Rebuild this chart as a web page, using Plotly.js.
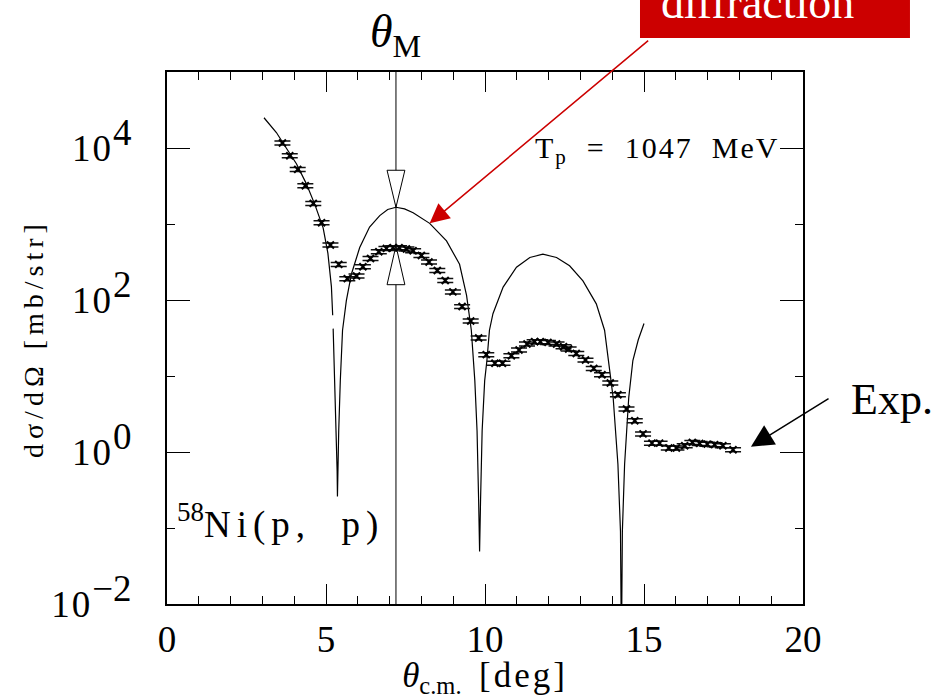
<!DOCTYPE html>
<html>
<head>
<meta charset="utf-8">
<script src="https://cdn.plot.ly/plotly-3.0.1.min.js"></script>
<style>
  html, body { margin: 0; padding: 0; background: #fff; }
  #chart { width: 947px; height: 699px; }
</style>
</head>
<body>
<div id="chart"></div>
<script>
// 58Ni(p,p) elastic scattering at Tp = 1047 MeV: measured cross sections
const expAngle = [3.63, 3.86, 4.11, 4.35, 4.60, 4.86, 5.14, 5.40, 5.67, 5.96,
  6.16, 6.40, 6.66, 6.90, 7.11, 7.30, 7.53, 7.74, 8.00, 8.24,
  8.50, 8.75, 8.99, 9.28, 9.55, 9.80, 10.04, 10.31, 10.55, 10.83,
  11.07, 11.32, 11.56, 11.74, 11.98, 12.25, 12.47, 12.63, 12.87, 13.16,
  13.42, 13.68, 13.94, 14.18, 14.45, 14.71, 14.97, 15.25, 15.49, 15.78,
  16.02, 16.28, 16.52, 16.75, 16.99, 17.22, 17.48, 17.80];
const expSigma = [11640, 7920, 5230, 3190, 1870, 1040, 530, 294, 191, 207,
  274, 352, 432, 478, 488, 488, 469, 445, 386, 316,
  245, 181, 128, 82, 53, 31.6, 19.1, 14.7, 14.7, 18.5,
  22.0, 26.4, 28.3, 28.3, 27.7, 26.4, 24.3, 22.7, 19.8, 16.2,
  12.6, 10.4, 8.09, 5.67, 3.68, 2.58, 1.73, 1.31, 1.31, 1.13,
  1.13, 1.21, 1.34, 1.30, 1.27, 1.25, 1.21, 1.07];

// Black-disk diffraction curve (null marks the small break in the drawn line)
const calcAngle = [3.05, 3.44, 3.75, 4.07, 4.38, 4.65, 4.91, 5.06, 5.17, 5.21,
  5.215, 5.225, 5.27, 5.33, 5.35, 5.36, 5.375, 5.40, 5.45, 5.52,
  5.64, 5.80, 6.06, 6.37, 6.69, 6.94, 7.20, 7.47, 7.74, 8.26,
  8.79, 9.20, 9.42, 9.57, 9.68, 9.75, 9.80, 9.83, 9.86, 9.91,
  9.99, 10.06, 10.14, 10.25, 10.57, 10.99, 11.41, 11.82, 12.25, 12.66,
  13.08, 13.50, 13.76, 14.03, 14.18, 14.26, 14.29, 14.32, 14.39, 14.52,
  14.65, 14.82, 15.00];
const calcSigma = [2.5e4, 1.6e4, 1.0e4, 6200, 3400, 1800, 890, 410, 150, 63,
  null, 42, 8.7, 1.9, 0.56, 0.26, 0.8, 1.9, 8.7, 40,
  98, 220, 490, 910, 1290, 1550, 1660, 1580, 1410, 1020,
  600, 295, 115, 40, 8.7, 1.9, 0.23, 0.049, 0.23, 1.9,
  8.7, 16, 40, 66, 148, 270, 363, 400, 363, 282,
  178, 89, 40, 5.2, 0.69, 0.091, 0.0025, 0.091, 0.69, 5.2,
  16, 30, 49];

// Axis ticks
const xMajor = [0, 5, 10, 15, 20];
const xMajorText = ['0', '5', '10', '15', '20'];
const yMajor = [0.01, 1, 100, 10000];
const yExp = ['−2', '0', '2', '4'];
const yMinor = [0.1, 10, 1000, 100000];

// First diffraction maximum angle
const thetaM = 7.2;

const serif = 'Liberation Serif, Times New Roman, serif';
const yMajorText = yExp.map(e =>
  '<span style="letter-spacing:2px">10</span><sup><span style="font-size:37px">' + e + '</span></sup>');

// heights of the first maximum, in the calculation and in the data
const peakCalc = calcSigma[calcAngle.indexOf(thetaM)];
const peakExp = Math.max(...expSigma.filter((v, i) => Math.abs(expAngle[i] - thetaM) < 1));
const arrowIdx = calcAngle.indexOf(8.26);
const lastIdx = expAngle.length - 1;

// open triangles on the theta_M line: half width in degrees, height as a ratio in sigma
const triHalf = 0.28;
const triRise = 3.07;
function triangleTrace(tipY, baseY) {
  return {
    x: [thetaM - triHalf, thetaM + triHalf, thetaM, thetaM - triHalf],
    y: [baseY, baseY, tipY, baseY],
    type: 'scatter', mode: 'lines', fill: 'toself', fillcolor: '#fff',
    line: { color: '#000', width: 1 }, hoverinfo: 'skip', showlegend: false
  };
}

const traces = [
  {
    x: calcAngle, y: calcSigma, type: 'scatter', mode: 'lines',
    line: { color: '#000', width: 1.2 }, connectgaps: false,
    hoverinfo: 'skip', showlegend: false
  },
  triangleTrace(peakCalc, peakCalc * triRise),
  triangleTrace(peakExp * 1.06, peakExp / triRise),
  {
    x: expAngle, y: expSigma, type: 'scatter', mode: 'markers',
    marker: { symbol: 'x-thin', size: 7, line: { color: '#000', width: 2 }, color: '#000' },
    error_y: { type: 'percent', value: 6, width: 8, thickness: 1.5, color: '#111' },
    showlegend: false
  }
];

const layout = {
  width: 947, height: 699,
  margin: { l: 167, r: 144, t: 72, b: 95, pad: 0 },
  paper_bgcolor: '#fff', plot_bgcolor: '#fff',
  font: { family: serif, color: '#000', size: 36 },
  showlegend: false,
  xaxis: {
    range: [0, 20], showgrid: false, zeroline: false,
    showline: true, linecolor: '#000', linewidth: 2, mirror: 'allticks',
    ticks: 'inside', ticklen: 20, tickwidth: 1, tickcolor: '#000',
    tickmode: 'array', tickvals: xMajor, ticktext: xMajorText,
    tickfont: { family: serif, size: 37 }, ticklabelstandoff: 2,
    minor: { tickmode: 'linear', tick0: 0, dtick: 1, ticks: 'inside', ticklen: 8, tickwidth: 1, tickcolor: '#000', showgrid: false },
    title: { text: '<i>θ</i><sub>c.m.</sub>  <span style="letter-spacing:3px">[deg]</span>',
             font: { family: serif, size: 35 }, standoff: 9 }
  },
  yaxis: {
    type: 'log', range: [-2, 5], showgrid: false, zeroline: false,
    showline: true, linecolor: '#000', linewidth: 2, mirror: 'allticks',
    ticks: 'inside', ticklen: 23, tickwidth: 1, tickcolor: '#000',
    tickmode: 'array', tickvals: yMajor, ticktext: yMajorText,
    tickfont: { family: serif, size: 37 }, ticklabelstandoff: 26,
    minor: { tickmode: 'array', tickvals: yMinor, ticks: 'inside', ticklen: 8, tickwidth: 1, tickcolor: '#000', showgrid: false }
  },
  shapes: [
    // theta_M marker line, kept under the traces so the triangles sit on top of it
    { type: 'line', xref: 'x', yref: 'paper', x0: thetaM, x1: thetaM, y0: 0, y1: 1,
      line: { color: '#000', width: 1 }, layer: 'below' },
    // red label box
    { type: 'rect', xref: 'paper', yref: 'paper', x0: 0.7437, x1: 1.1682, y0: 1.0639, y1: 1.25,
      fillcolor: '#cc0000', line: { width: 0 }, layer: 'above' }
  ],
  annotations: [
    { xref: 'paper', yref: 'paper', x: 0.9277, y: 1.131, xanchor: 'center', yanchor: 'middle',
      text: 'diffraction', showarrow: false, font: { family: serif, size: 46, color: '#fff' } },
    { xref: 'x', yref: 'y', x: calcAngle[arrowIdx], y: Math.log10(calcSigma[arrowIdx]),
      ax: 220, ay: -184, text: '', showarrow: true, arrowcolor: '#cc0000',
      arrowwidth: 1.5, arrowhead: 2, arrowsize: 2.6 },
    { xref: 'x', yref: 'paper', x: thetaM, y: 1.012, xanchor: 'center', yanchor: 'bottom',
      text: '<i>θ</i><sub>M</sub>', showarrow: false, font: { family: serif, size: 46 } },
    { xref: 'paper', yref: 'paper', x: 0.966, y: 0.853, xanchor: 'right', yanchor: 'middle',
      text: '<span style="letter-spacing:2px">T<sub>p</sub>  =  1047  MeV</span>', showarrow: false,
      font: { family: serif, size: 30 } },
    { xref: 'paper', yref: 'paper', x: 0.012, y: 0.155, xanchor: 'left', yanchor: 'middle',
      text: '<sup><span style="font-size:27px">58</span></sup><span style="letter-spacing:6px">Ni(p,  p)</span>',
      showarrow: false, font: { family: serif, size: 37 } },
    { xref: 'paper', yref: 'paper', x: 1.14, y: 0.3835, xanchor: 'center', yanchor: 'middle',
      text: 'Exp.', showarrow: false, font: { family: serif, size: 44 } },
    { xref: 'x', yref: 'y', x: expAngle[lastIdx], y: Math.log10(expSigma[lastIdx]), yshift: -8,
      ax: 97, ay: -60, standoff: 21, text: '', showarrow: true, arrowcolor: '#000',
      arrowwidth: 1.5, arrowhead: 2, arrowsize: 3 },
    { xref: 'paper', yref: 'paper', x: -0.2107, y: 0.5, xanchor: 'center', yanchor: 'middle',
      textangle: -90, showarrow: false, font: { family: serif, size: 28 },
      text: '<span style="letter-spacing:5px">dσ/dΩ [mb/str]</span>' }
  ]
};

Plotly.newPlot('chart', traces, layout, { staticPlot: true, displayModeBar: false });
</script>
</body>
</html>
